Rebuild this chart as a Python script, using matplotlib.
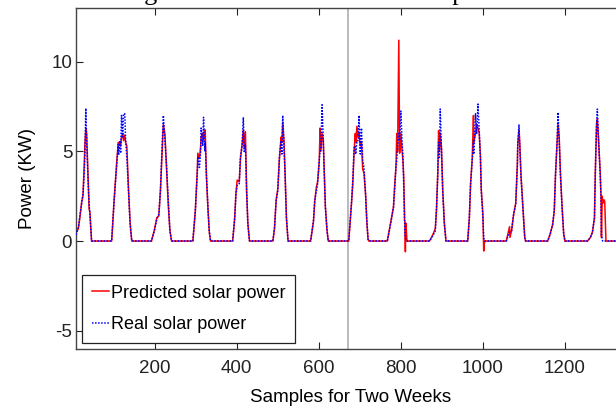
import matplotlib
matplotlib.use("Agg")
import matplotlib.pyplot as plt

plt.rcParams['font.family'] = ['Liberation Sans', 'DejaVu Sans']
plt.rcParams['axes.unicode_minus'] = False

# sample index (15 min steps), one line per day
samples = (
    [5, 9, 14, 18, 22, 25, 28, 30, 32, 34, 37, 40, 42, 46]
    + [95, 101, 107, 111, 112, 115, 117, 119, 122, 124, 127, 129, 132, 136, 140, 144]
    + [192, 199, 205, 210, 214, 217, 221, 225, 229, 233, 237, 241]
    + [293, 299, 304, 305, 309, 312, 313, 317, 319, 322, 323, 326, 330, 333, 336]
    + [390, 395, 398, 401, 406, 409, 413, 416, 418, 421, 424, 427, 431]
    + [488, 492, 496, 500, 504, 508, 510, 512, 515, 518, 521, 525]
    + [580, 587, 590, 594, 597, 601, 603, 605, 608, 611, 613, 616, 620, 623]
    + [673, 680, 683, 686, 689, 690, 693, 696, 698, 701, 704, 707, 710, 714, 717, 720, 722]
    + [767, 775, 782, 785, 788, 790, 792, 795, 797, 800, 803, 805, 807, 809, 810, 811, 812, 815]
    + [870, 878, 884, 887, 890, 892, 894, 896, 899, 902, 906, 910]
    + [963, 967, 970, 974, 977, 978, 982, 985, 988, 991, 994, 996, 1000, 1002, 1004]
    + [1057, 1065, 1066, 1070, 1075, 1080, 1084, 1085, 1088, 1090, 1093, 1098, 1102, 1104]
    + [1158, 1164, 1170, 1174, 1177, 1181, 1183, 1186, 1189, 1193, 1197, 1200]
    + [1255, 1262, 1267, 1272, 1274, 1277, 1279, 1282, 1286, 1288, 1289, 1291, 1292, 1295, 1297, 1300, 1344]
)

real_kw = (
    [0.2, 0.4, 0.8, 1.5, 2.1, 2.6, 3.7, 5.0, 7.4, 5.6, 3.7, 2.1, 1.5, 0]
    + [0, 2.2, 4.1, 5.4, 4.8, 5.6, 4.9, 7.0, 5.8, 7.1, 7.1, 5.6, 4.7, 2.8, 0.95, 0]
    + [0, 0.56, 1.2, 1.5, 2.8, 4.7, 7.0, 5.6, 4.1, 2.25, 0.55, 0]
    + [0, 1.7, 3.9, 4.7, 4.1, 5.0, 6.3, 5.3, 6.9, 5.0, 5.5, 3.7, 1.7, 0.55, 0]
    + [0, 1.3, 2.6, 3.1, 3.2, 4.7, 5.3, 6.9, 5.0, 5.4, 2.8, 0.94, 0]
    + [0, 0.74, 2.25, 2.8, 4.7, 5.6, 4.85, 7.0, 5.4, 3.55, 1.3, 0]
    + [0, 1.13, 2.25, 2.8, 3.2, 4.5, 5.0, 5.2, 7.6, 5.4, 3.9, 1.9, 0.58, 0]
    + [0, 2.25, 3.4, 5.2, 5.3, 4.85, 5.6, 5.6, 7.0, 4.85, 6.3, 4.5, 4.1, 2.6, 1.13, 0.1, 0]
    + [0, 0.95, 1.87, 3.0, 4.1, 4.5, 5.2, 6.0, 5.6, 7.25, 5.5, 4.8, 3.0, 1.1, 0.4, 0.2, 0.1, 0]
    + [0, 0.3, 0.57, 1.87, 3.7, 5.5, 4.66, 7.36, 5.0, 2.8, 0.94, 0]
    + [0, 1.3, 3.2, 4.5, 5.6, 4.85, 7.1, 6.0, 7.64, 6.15, 4.66, 2.8, 1.3, 0.2, 0]
    + [0, 0.5, 0.5, 0.57, 1.5, 2.06, 4.1, 5.4, 6.5, 5.2, 3.55, 1.7, 0.19, 0]
    + [0, 0.37, 0.94, 1.7, 3.7, 5.6, 7.17, 5.6, 3.7, 1.87, 0.37, 0]
    + [0, 0.19, 0.47, 1.3, 3.7, 6.5, 7.36, 5.6, 3.7, 2.43, 0.37, 0.1, 0, 0, 0, 0, 0]
)

pred_kw = (
    [0.25, 0.5, 0.7, 1.4, 2.2, 2.5, 4.2, 5.5, 6.3, 6.0, 3.9, 1.8, 1.6, 0]
    + [0, 2.3, 4.3, 5.5, 5.5, 5.4, 5.3, 5.8, 6.0, 5.6, 5.9, 5.5, 5.3, 2.9, 1.0, 0]
    + [0, 0.6, 1.3, 1.4, 2.9, 4.5, 6.5, 5.9, 4.0, 2.0, 0.6, 0]
    + [0, 1.7, 4.1, 4.9, 4.6, 5.3, 5.8, 6.0, 5.6, 6.2, 6.2, 3.6, 1.7, 0.5, 0]
    + [0, 1.3, 2.7, 3.4, 3.3, 4.6, 5.4, 6.2, 5.2, 6.1, 2.8, 1.0, 0]
    + [0, 0.7, 2.3, 2.9, 4.6, 5.8, 5.5, 6.6, 5.6, 3.6, 1.3, 0]
    + [0, 1.1, 2.2, 3.0, 3.3, 4.4, 6.3, 5.0, 6.0, 5.6, 4.0, 1.9, 0.6, 0]
    + [0, 2.2, 3.3, 5.0, 6.0, 5.5, 6.4, 5.8, 6.0, 5.3, 5.5, 4.0, 3.8, 2.6, 1.1, 0.1, 0]
    + [0, 1.0, 1.9, 3.1, 4.1, 6.0, 5.0, 11.2, 4.9, 6.0, 5.0, 4.5, 3.6, 1.2, 1.0, -0.6, 1.0, 0]
    + [0, 0.35, 0.7, 1.8, 3.8, 6.15, 5.0, 6.0, 5.2, 2.9, 1.0, 0]
    + [0, 1.3, 3.2, 4.6, 7.0, 5.5, 6.0, 6.5, 6.3, 6.0, 4.7, 2.9, 1.5, -0.56, 0]
    + [0, 0.8, 0.2, 0.6, 1.5, 2.1, 4.3, 5.4, 6.2, 5.4, 3.6, 1.7, 0.2, 0]
    + [0, 0.4, 0.9, 1.7, 3.7, 5.5, 6.5, 5.8, 3.8, 1.9, 0.4, 0]
    + [0, 0.2, 0.5, 1.3, 3.8, 6.4, 6.8, 5.6, 3.8, 2.4, 0.2, 2.5, 2.1, 2.3, 2.2, 0, 0]
)

week_mark = 672
xticks = [200, 400, 600, 800, 1000, 1200]
yticks = [-5, 0, 5, 10]

fig = plt.figure(figsize=(6.16, 4.16), dpi=100)
ax = fig.add_axes([0.124, 0.162, 0.889, 0.819])

ax.axvline(week_mark, color='#b4b4b4', lw=1.3, zorder=1)
ax.plot(samples, pred_kw, color='r', lw=1.1, label='Predicted solar power', zorder=2)
ax.plot(samples, real_kw, color='b', lw=1.1, ls=(0, (1, 1)), label='Real solar power', zorder=3)

ax.set_xticks(xticks)
ax.set_yticks(yticks)
ax.set_xlim(9, 1344)
ax.set_ylim(-6, 13)
ax.tick_params(direction='in', length=5, width=0.8, top=True, right=True,
               labelsize=13.5, colors='#222222')
ax.tick_params(axis='x', pad=8)
ax.tick_params(axis='y', pad=3)
for sp in ax.spines.values():
    sp.set_color('#444444')
    sp.set_linewidth(1.0)

ax.set_xlabel('Samples for Two Weeks', fontsize=13.5, labelpad=9)
ax.set_ylabel('Power (KW)', fontsize=13.5, labelpad=11)

leg = ax.legend(loc='lower left', fontsize=13, handlelength=0.95, handletextpad=0.1,
                borderaxespad=0.3, borderpad=0.55, labelspacing=0.8, fancybox=False,
                edgecolor='#222222', framealpha=1)
leg.get_frame().set_linewidth(0.9)

fig.text(0.52, 0.9995, 'Fig. 3. Predicted and real solar power', family='Liberation Serif',
         fontsize=19, ha='center', va='baseline')

fig.savefig('out.png', dpi=100)
